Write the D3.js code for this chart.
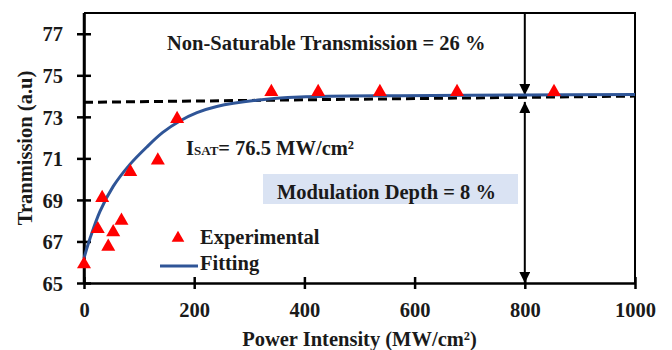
<!DOCTYPE html>
<html>
<head>
<meta charset="utf-8">
<script src="https://cdn.jsdelivr.net/npm/d3@7"></script>
<style>
  body { margin: 0; background: #fff; }
</style>
</head>
<body>
<svg id="chart" width="672" height="350"></svg>
<script>
// experimental points
const powerExp = [0, 25, 33, 44, 53, 68, 84, 134, 169, 340, 425, 537, 677, 853];
const transExp = [65.9, 67.6, 69.1, 66.75, 67.45, 68.0, 70.35, 70.9, 72.9, 74.2, 74.2, 74.2, 74.2, 74.2];

// fitted curve
const powerFit = [0, 11, 29, 53, 83, 114, 143, 174, 205, 241, 314, 392, 573, 800, 1000];
const transFit = [66.2, 67.15, 68.45, 69.65, 70.7, 71.55, 72.25, 72.8, 73.2, 73.5, 73.8, 73.95, 74.02, 74.05, 74.07];

// dashed reference line
const dashPower = [0, 1000];
const dashTrans = [73.7, 74.0];

const xTicks = [0, 200, 400, 600, 800, 1000];
const yTicks = [65, 67, 69, 71, 73, 75, 77];

const FONT = 'Liberation Serif';

const svg = d3.select('#chart');
const margin = { left: 84, right: 37, top: 13, bottom: 67 };
const W = 672, H = 350;

const x = d3.scaleLinear().domain([0, 1000]).range([margin.left, W - margin.right]);
const y = d3.scaleLinear().domain([65, 78]).range([H - margin.bottom, margin.top]);

// frame (top + right)
svg.append('path')
    .attr('d', `M${x(0)},${y(78)}H${x(1000)}V${y(65)}`)
    .attr('fill', 'none').attr('stroke', '#000').attr('stroke-width', 2);

// modulation depth box
svg.append('rect')
    .attr('x', 263).attr('y', 174).attr('width', 255).attr('height', 30)
    .attr('fill', '#dae3f3');

// axes
const xAxis = svg.append('g')
    .attr('transform', `translate(0,${y(65)})`)
    .call(d3.axisBottom(x).tickValues(xTicks).tickFormat(d3.format('d')).tickSize(6).tickSizeOuter(0));
xAxis.selectAll('.tick line').attr('y1', -6).attr('y2', 6);
xAxis.selectAll('.tick text').attr('y', 34).attr('dy', 0);

const yAxis = svg.append('g')
    .attr('transform', `translate(${x(0)},0)`)
    .call(d3.axisLeft(y).tickValues(yTicks).tickSize(7).tickSizeOuter(0));
yAxis.selectAll('.tick line').attr('x1', -7).attr('x2', 7);
yAxis.selectAll('.tick text').attr('x', -21).attr('dy', '0.35em');

svg.selectAll('.domain').attr('stroke', '#000').attr('stroke-width', 2.5);
svg.selectAll('.tick line').attr('stroke', '#000').attr('stroke-width', 2.5);
svg.selectAll('.tick text')
    .attr('font-family', FONT).attr('font-size', 20.5).attr('font-weight', 'bold')
    .attr('fill', '#1a1a1a');
// top of left axis up to the frame
svg.append('line')
    .attr('x1', x(0)).attr('x2', x(0)).attr('y1', y(78)).attr('y2', y(65))
    .attr('stroke', '#000').attr('stroke-width', 2.5);

// arrows at 800
const defs = svg.append('defs');
defs.append('marker')
    .attr('id', 'arrow').attr('viewBox', '0 0 10 10')
    .attr('refX', 10).attr('refY', 5)
    .attr('markerWidth', 5.5).attr('markerHeight', 5.5)
    .attr('markerUnits', 'strokeWidth')
    .attr('orient', 'auto-start-reverse')
    .append('path').attr('d', 'M0,0L10,5L0,10z').attr('fill', '#000');

svg.append('line')
    .attr('x1', x(800)).attr('x2', x(800))
    .attr('y1', y(78)).attr('y2', y(74.0) - 1)
    .attr('stroke', '#000').attr('stroke-width', 2)
    .attr('marker-end', 'url(#arrow)');
svg.append('line')
    .attr('x1', x(800)).attr('x2', x(800))
    .attr('y1', y(73.72)).attr('y2', y(65))
    .attr('stroke', '#000').attr('stroke-width', 2)
    .attr('marker-start', 'url(#arrow)')
    .attr('marker-end', 'url(#arrow)');

// dashed line
svg.append('path')
    .datum(d3.zip(dashPower, dashTrans))
    .attr('d', d3.line().x(d => x(d[0])).y(d => y(d[1])))
    .attr('fill', 'none').attr('stroke', '#000')
    .attr('stroke-width', 3).attr('stroke-dasharray', '9,5');

// fitted curve
svg.append('path')
    .datum(d3.zip(powerFit, transFit))
    .attr('d', d3.line().x(d => x(d[0])).y(d => y(d[1])).curve(d3.curveCatmullRom.alpha(0.5)))
    .attr('fill', 'none').attr('stroke', '#2f5597').attr('stroke-width', 3);

// experimental triangles
const tri = d3.symbol().type(d3.symbolTriangle).size(85);
svg.append('g').selectAll('path')
    .data(d3.zip(powerExp, transExp))
    .join('path')
    .attr('d', tri)
    .attr('transform', d => `translate(${x(d[0])},${y(d[1])})`)
    .attr('fill', '#ff0000');

function label(xp, yp, txt) {
    return svg.append('text')
        .attr('x', xp).attr('y', yp)
        .attr('font-family', FONT).attr('font-size', 20.5).attr('font-weight', 'bold')
        .attr('fill', '#1a1a1a')
        .text(txt);
}

// legend
svg.append('path').attr('d', d3.symbol().type(d3.symbolTriangle).size(70))
    .attr('transform', 'translate(178,238)').attr('fill', '#ff0000');
label(200, 244, 'Experimental');
svg.append('line').attr('x1', 160).attr('x2', 198).attr('y1', 266).attr('y2', 266)
    .attr('stroke', '#2f5597').attr('stroke-width', 3);
label(200, 270, 'Fitting');

// annotations
label(167, 50, 'Non-Saturable Transmission = 26 %');

const isat = label(186, 155, '');
isat.append('tspan').text('I');
isat.append('tspan').attr('font-size', 13).text('SAT');
isat.append('tspan').text('= 76.5 MW/cm²');

label(277, 199, 'Modulation Depth = 8 %');

// axis titles
label((x(0) + x(1000)) / 2, 346, 'Power Intensity (MW/cm²)')
    .attr('text-anchor', 'middle');
label(0, 0, 'Tranmission (a.u)')
    .attr('transform', 'translate(32,148) rotate(-90)')
    .attr('text-anchor', 'middle');
</script>
</body>
</html>
